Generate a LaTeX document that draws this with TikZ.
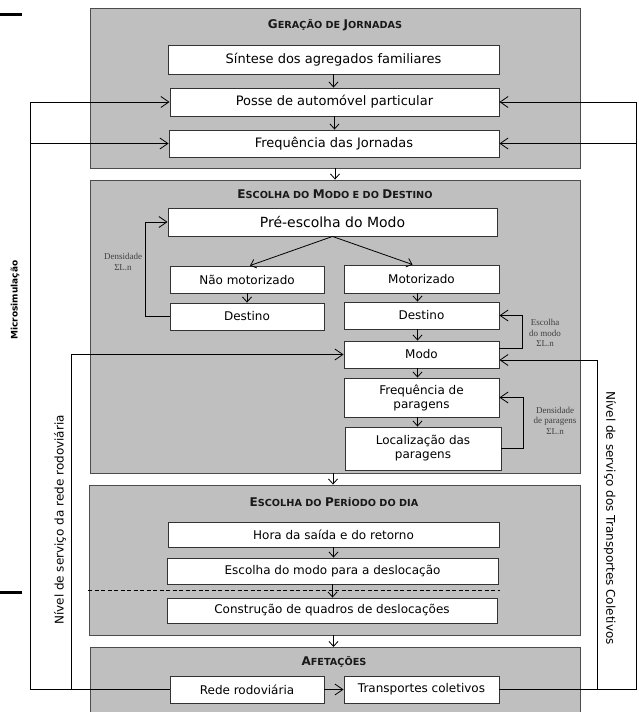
\documentclass[tikz,border=0pt]{standalone}
\usepackage{fontspec}
\setmainfont{DejaVu Sans}
\newfontfamily\lblfont{Liberation Serif}
\usetikzlibrary{arrows.meta,calc}
\newcommand\hbig{\fontsize{12}{14}\selectfont}
\newcommand\hsml{\fontsize{9.7}{12}\selectfont}
\begin{document}
\begin{tikzpicture}[x=1pt,y=-1pt,
 grp/.style={fill=black!25, draw=black!70, line width=0.9pt, inner sep=0pt},
 box/.style={fill=white, draw=black!80, line width=0.9pt, inner sep=0pt, align=center, font=\fontsize{12}{14}\selectfont},
 bigbox/.style={box, font=\fontsize{13}{15}\selectfont},
 hdr/.style={font=\bfseries, inner sep=0pt, text=black!90},
 arr/.style={line width=0.8pt, -{Straight Barb[length=5pt,width=9pt]}},
 barr/.style={line width=0.8pt, -{Straight Barb[length=8pt,width=11pt]}},
 ln/.style={line width=0.8pt},
 lbl/.style={font=\lblfont\fontsize{9}{10.5}\selectfont, text=black!75, align=center, inner sep=0pt},
 side/.style={font=\fontsize{12}{14}\selectfont, inner sep=0pt}]
\useasboundingbox (0,0) rectangle (639,712);

% group boxes
\node[grp, minimum width=490, minimum height=160] (g1) at (335,88) {};
\node[grp, minimum width=490, minimum height=293] (g2) at (335,326.5) {};
\node[grp, minimum width=491, minimum height=150] (g3) at (334.5,560) {};
\fill[black!25] (90,647) rectangle (580,712);
\draw[black!70, line width=0.9pt] (90,712) -- (90,647) -- (580,647) -- (580,712);
\coordinate (g4n) at (334,647);

% headers
\node[hdr] (h1) at (335,25) {{\hbig G}{\hsml ERAÇÃO DE }{\hbig J}{\hsml ORNADAS}};
\node[hdr] (h2) at (335,194) {{\hbig E}{\hsml SCOLHA DO }{\hbig M}{\hsml ODO E DO }{\hbig D}{\hsml ESTINO}};
\node[hdr] (h3) at (334,502) {{\hbig E}{\hsml SCOLHA DO }{\hbig P}{\hsml ERÍODO DO DIA}};
\node[hdr] (h4) at (334,662) {{\hbig A}{\hsml FETAÇÕES}};

% black bars
\draw[line width=3pt] (0,14) -- (22,14);
\draw[line width=3pt] (0,592) -- (22,592);

% inner boxes
\node[bigbox, minimum width=331, minimum height=29] (s1) at (333.5,59.5) {Síntese dos agregados familiares};
\node[bigbox, minimum width=329, minimum height=28] (s2) at (334.5,102) {Posse de automóvel particular};
\node[bigbox, minimum width=330, minimum height=27] (s3) at (334,143.5) {Frequência das Jornadas};

\node[box, font=\fontsize{14}{16}\selectfont, minimum width=329, minimum height=28] (pre) at (332.5,222) {Pré-escolha do Modo};
\node[box, minimum width=154, minimum height=27] (nm) at (247,279.5) {Não motorizado};
\node[box, minimum width=154, minimum height=27] (dl) at (247,316.5) {Destino};
\node[box, minimum width=155, minimum height=28] (mot) at (421.5,279) {Motorizado};
\node[box, minimum width=155, minimum height=27] (dr) at (421.5,315.5) {Destino};
\node[box, minimum width=155, minimum height=27] (modo) at (421.5,354.5) {Modo};
\node[box, minimum width=155, minimum height=39] (freq) at (421.5,397.5) {Frequência de\\paragens};
\node[box, minimum width=156, minimum height=43] (loc) at (423,448.5) {Localização das\\paragens};

\node[box, minimum width=331, minimum height=25] (hora) at (333.5,534.5) {Hora da saída e do retorno};
\node[box, minimum width=331, minimum height=26] (esc) at (332.5,571) {Escolha do modo para a deslocação};
\node[box, minimum width=330, minimum height=25] (con) at (332,610.5) {Construção de quadros de deslocações};

\node[box, minimum width=154, minimum height=27] (rede) at (247,689.5) {Rede rodoviária};
\node[box, minimum width=155, minimum height=27] (tc) at (421.5,689.5) {Transportes coletivos};

% dashed separator
\coordinate (dA) at (88,590);
\coordinate (dB) at (500,590);
\draw[line width=0.8pt, dash pattern=on 4pt off 2.5pt] (dA) -- (dB);

% vertical flow arrows
\draw[arr] (s1.south) -- (s1.south |- s2.north);
\draw[arr] (s2.south) -- (s2.south |- s3.north);
\draw[arr] (g1.south) -- (g2.north);
\draw[arr] (pre.south) -- ([xshift=3pt]nm.north);
\draw[arr] (pre.south) -- ([xshift=-9pt]mot.north);
\draw[arr] (nm.south) -- (nm.south |- dl.north);
\draw[arr] ([xshift=-4pt]mot.south) -- ([xshift=-4pt]mot.south |- dr.north);
\draw[arr] ([xshift=-4pt]dr.south) -- ([xshift=-4pt]dr.south |- modo.north);
\draw[arr] ([xshift=-4pt]modo.south) -- ([xshift=-4pt]modo.south |- freq.north);
\draw[arr] ([xshift=-4pt]freq.south) -- ([xshift=-4pt]freq.south |- loc.north);
\draw[arr] ([xshift=-2pt]g2.south) -- ([xshift=-2pt]g2.south |- g3.north);
\draw[arr] (hora.south) -- (hora.south |- esc.north);
\draw[arr] (esc.south) -- (esc.south |- con.north);
\draw[arr] ([xshift=-1pt]g3.south) -- ([xshift=-1pt]g3.south |- g4n);
\draw[barr] (rede.east) -- (tc.west);

% internal loops
\draw[barr] (dl.west) -- ++(-24,0) |- (pre.west);
\draw[barr] ([yshift=6.5pt]modo.east) -- ++(23,0) |- (dr.east);
\draw[barr] (loc.east) -- ++(22,0) |- (freq.east);

% loop labels
\node[lbl] (lb1) at (123,262) {Densidade\\ΣL.n};
\node[lbl] (lb2) at (545,333) {Escolha\\do modo\\ΣL.n};
\node[lbl] (lb3) at (555,420.5) {Densidade\\de paragens\\ΣL.n};

% left external feedback
\coordinate (lo) at (30,689.5);
\coordinate (li) at (71,689.5);
\draw[ln] (rede.west) -- (lo);
\draw[barr] (lo) |- (s2.west);
\draw[barr] (lo |- s3.west) -- (s3.west);
\draw[barr] (li) |- (modo.west);

% right external feedback
\coordinate (ro) at (636,689.5);
\coordinate (ri) at (597,689.5);
\draw[ln] (tc.east) -- (ro);
\draw[barr] (ro) |- (s2.east);
\draw[barr] (ro |- s3.east) -- (s3.east);
\draw[barr] (ri) |- ([yshift=-5.5pt]modo.east);

% side texts
\node[font=\bfseries\fontsize{9}{11}\selectfont, rotate=90, inner sep=0pt] (micro) at (15,300) {Microsimulação};
\node[side, rotate=90] (nrr) at (60,520) {Nível de serviço da rede rodoviária};
\node[side, rotate=-90] (ntc) at (610,518) {Nível de serviço dos Transportes Coletivos};
\end{tikzpicture}
\end{document}
